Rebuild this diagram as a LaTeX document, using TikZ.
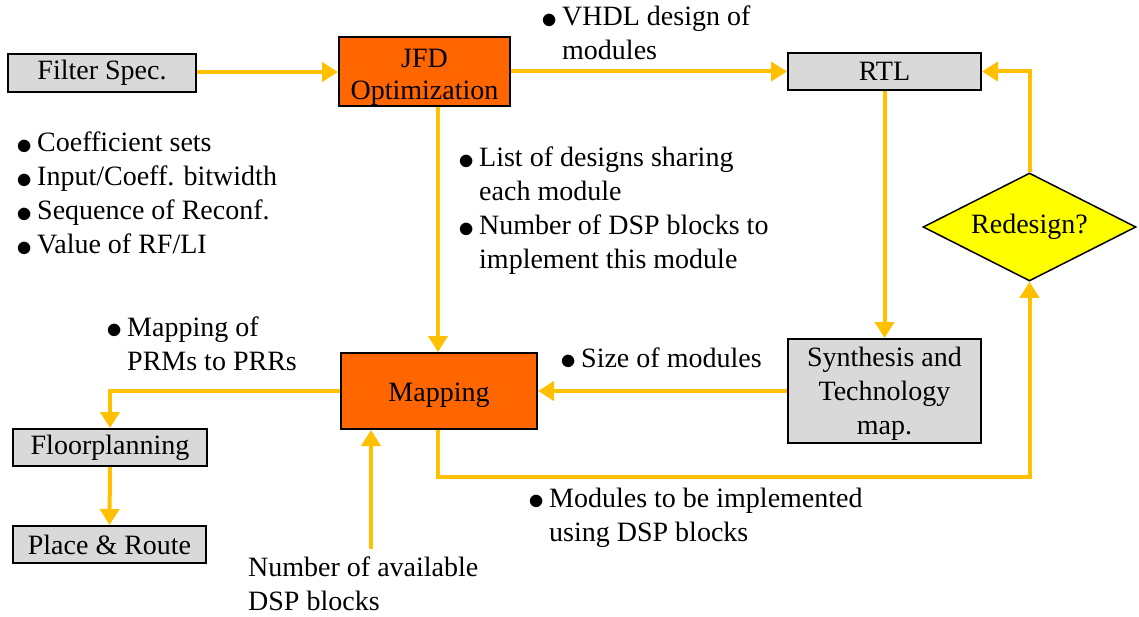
\documentclass[tikz,border=0pt]{standalone}
\usepackage{fontspec}
\usepackage{graphicx}
\setmainfont{Liberation Serif}
\usetikzlibrary{arrows.meta,shapes.geometric}
\definecolor{boxgray}{HTML}{D9D9D9}
\definecolor{boxorange}{HTML}{FF6600}
\definecolor{flow}{HTML}{FFC000}
\definecolor{decide}{HTML}{FFFF00}
% bullet column for the annotation lists
\newcommand{\bul}{\makebox[19pt][l]{\hspace*{-2pt}\raisebox{-2.5pt}{\scalebox{1.3}{$\bullet$}}}}
\newcommand{\cont}{\hspace*{19pt}}
% lower a label inside its box without changing the box's reported size
\newcommand{\lowered}[2]{\raisebox{-#1}[\height][\depth]{#2}}
\begin{document}
\begin{tikzpicture}[x=1pt,y=-1pt,
  every node/.style={font=\fontsize{28}{34}\selectfont, inner sep=0pt},
  graybox/.style={draw=black, line width=2pt, fill=boxgray, align=center},
  orangebox/.style={draw=black, line width=2pt, fill=boxorange, align=center},
  decision/.style={diamond, aspect=2, draw=black, line width=1.5pt, fill=decide},
  note/.style={anchor=base west, align=left},
  flowline/.style={draw=flow, line width=4pt},
  flowarrow/.style={flowline, -{Triangle[length=16pt,width=19pt]}}]
\useasboundingbox (0,0) rectangle (1139,617);

% process boxes
\node[graybox, minimum width=188pt, minimum height=38pt] (spec) at (102,73) {Filter Spec.};
\node[orangebox, minimum width=171pt, minimum height=69pt] (jfd) at (424.5,71.5)
  {\lowered{5pt}{\begin{tabular}{@{}c@{}}JFD\\[-2pt]Optimization\end{tabular}}};
\node[graybox, minimum width=193pt, minimum height=37pt] (rtl) at (884.5,71.5) {RTL};
\node[decision, minimum width=213pt, minimum height=108pt] (redesign) at (1029.5,227) {Redesign?};
\node[orangebox, minimum width=196pt, minimum height=76pt] (map) at (439,391)
  {\lowered{4pt}{Mapping}};
\node[graybox, minimum width=193pt, minimum height=104pt] (synth) at (884.5,391)
  {\lowered{3pt}{\begin{tabular}{@{}c@{}}Synthesis and\\Technology\\map.\end{tabular}}};
\node[graybox, minimum width=194pt, minimum height=37pt] (floor) at (110,447.5) {Floorplanning};
\node[graybox, minimum width=193pt, minimum height=37pt] (place) at (109.5,544.5) {Place \& Route};

% annotations
\node[note] (nspec) at (18,152) {\begin{tabular}[t]{@{}l@{}}
  \bul Coefficient sets\\ \bul Input/Coeff. bitwidth\\ \bul Sequence of Reconf.\\ \bul Value of RF/LI\end{tabular}};
\node[note] (nvhdl) at (543,26) {\begin{tabular}[t]{@{}l@{}}
  \bul VHDL design of\\ \cont modules\end{tabular}};
\node[note] (nlist) at (460,167) {\begin{tabular}[t]{@{}l@{}}
  \bul List of designs sharing\\ \cont each module\\ \bul Number of DSP blocks to\\ \cont implement this module\end{tabular}};
\node[note] (nprm) at (108,336) {\begin{tabular}[t]{@{}l@{}}
  \bul Mapping of\\ \cont PRMs to PRRs\end{tabular}};
\node[note] (nsize) at (562,367) {\bul Size of modules};
\node[note] (nmod) at (530,507) {\begin{tabular}[t]{@{}l@{}}
  \bul Modules to be implemented\\ \cont using DSP blocks\end{tabular}};
\node[note] (navail) at (248,576) {\begin{tabular}[t]{@{}l@{}}
  Number of available\\ DSP blocks\end{tabular}};

% flow connectors
\coordinate (dspin) at (371,549);
\coordinate (loop) at (1029.5,477);
\draw[flowarrow] (spec.east |- 0,72) -- (jfd.west |- 0,72);
\draw[flowarrow] (jfd.east) -- (rtl.west);
\draw[flowarrow] (jfd.south -| 438,0) -- (map.north -| 438,0);
\draw[flowarrow] (rtl.south) -- (synth.north);
\draw[flowarrow] (synth.west) -- (map.east);
\draw[flowarrow] (map.west) -| (floor.north);
\draw[flowarrow] (floor.south) -- (place.north);
\draw[flowarrow] (dspin) -- (dspin |- map.south);
\draw[flowarrow] (map.south -| 438,0) |- (loop) -- (redesign.south);
\draw[flowarrow] (redesign.north) |- (rtl.east);
\end{tikzpicture}
\end{document}
